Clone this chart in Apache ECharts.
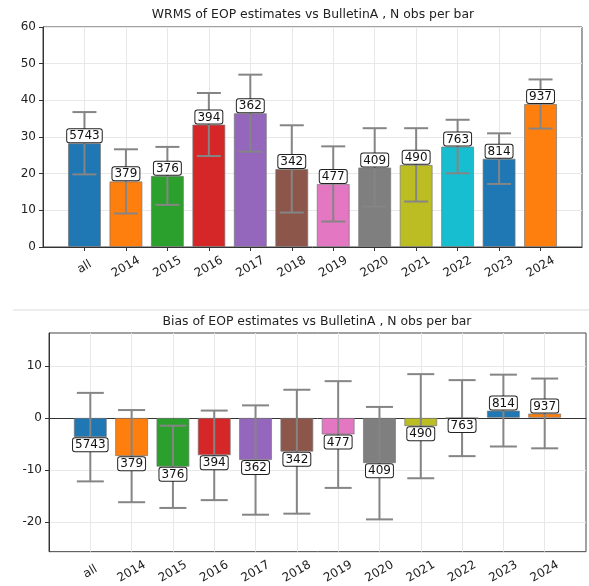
<!DOCTYPE html>
<html>
<head>
<meta charset="UTF-8">
<title>WRMS / Bias of EOP estimates vs BulletinA</title>
<style type="text/css">
    *{margin:0;padding:0;}
    body{background:#fff;}
    #main{width:589px;height:586px;}
</style>
<script src="https://cdn.jsdelivr.net/npm/echarts@6/dist/echarts.min.js"></script>
</head>
<body>
<div id="main"></div>
<script type="text/javascript">
    // data
    var categories = ['all', '2014', '2015', '2016', '2017', '2018', '2019', '2020', '2021', '2022', '2023', '2024'];
    var nObs = [5743, 379, 376, 394, 362, 342, 477, 409, 490, 763, 814, 937];
    var wrms = [28.3, 17.9, 19.4, 33.4, 36.5, 21.3, 17.2, 21.7, 22.4, 27.4, 24.1, 39.0];
    var wrmsErr = [8.5, 8.75, 7.9, 8.6, 10.5, 11.9, 10.25, 10.7, 10.0, 7.3, 6.9, 6.7];
    var bias = [-3.7, -7.35, -9.4, -7.2, -8.1, -6.5, -3.2, -8.7, -1.6, -0.05, 1.4, 0.85];
    var biasErr = [8.5, 8.85, 7.9, 8.6, 10.5, 11.9, 10.25, 10.8, 10.0, 7.3, 6.9, 6.7];
    var wrmsTicks = [0, 10, 20, 30, 40, 50, 60];
    var biasTicks = [-20, -10, 0, 10];

    var barColors = ['#1f77b4', '#ff7f0e', '#2ca02c', '#d62728', '#9467bd', '#8c564b',
                     '#e377c2', '#7f7f7f', '#bcbd22', '#17becf', '#1f77b4', '#ff7f0e'];
    var FONT = 'DejaVu Sans';

    // empty slot on both ends so the bars sit one step inside the frame
    var axisCats = [''].concat(categories, ['']);

    function barData(vals) {
        return ['-'].concat(vals.map(function (v, i) {
            return {value: v, itemStyle: {color: barColors[i]}};
        }), ['-']);
    }

    function errData(vals, errs) {
        return vals.map(function (v, i) {
            return [i + 1, v - errs[i], v + errs[i], v, nObs[i]];
        });
    }

    // error bar + N obs box at the end of the bar
    function errRender(capHalf) {
        return function (params, api) {
            var x = api.value(0), v = api.value(3);
            var lo = api.coord([x, api.value(1)]);
            var hi = api.coord([x, api.value(2)]);
            var end = api.coord([x, v]);
            var ls = {stroke: '#858585', lineWidth: 2};
            var neg = v < 0;
            return {
                type: 'group',
                children: [
                    {type: 'line', shape: {x1: lo[0], y1: lo[1], x2: hi[0], y2: hi[1]}, style: ls},
                    {type: 'line', shape: {x1: lo[0] - capHalf, y1: lo[1], x2: lo[0] + capHalf, y2: lo[1]}, style: ls},
                    {type: 'line', shape: {x1: hi[0] - capHalf, y1: hi[1], x2: hi[0] + capHalf, y2: hi[1]}, style: ls},
                    {
                        type: 'text', x: end[0], y: neg ? end[1] + 1 : end[1] - 1,
                        style: {
                            text: String(api.value(4)), align: 'center',
                            verticalAlign: neg ? 'top' : 'bottom',
                            font: '12px "' + FONT + '"', fill: '#111',
                            backgroundColor: '#fff', borderColor: '#222', borderWidth: 1,
                            borderRadius: 2, padding: [1, 2, 0, 2]
                        }
                    }
                ]
            };
        };
    }

    function xAxis(gi) {
        return {
            gridIndex: gi, type: 'category', data: axisCats, boundaryGap: false,
            axisLine: {lineStyle: {color: '#333', width: 1}},
            axisTick: {show: true, length: 4, interval: function (i) { return i > 0 && i < axisCats.length - 1; }, lineStyle: {color: '#333'}},
            axisLabel: {
                interval: 0, rotate: 30, align: 'center', verticalAlign: 'middle', margin: 20,
                fontFamily: FONT, fontSize: 12, color: '#222'
            },
            splitLine: {show: true, interval: function (i) { return i > 0 && i < axisCats.length - 1; }, lineStyle: {color: '#e8e8e8', width: 1}}
        };
    }

    function yAxis(gi, min, max, ticks) {
        return {
            gridIndex: gi, type: 'value', min: min, max: max,
            axisLine: {show: true, lineStyle: {color: '#333'}},
            axisTick: {show: true, length: 4, customValues: ticks, lineStyle: {color: '#333'}},
            axisLabel: {customValues: ticks, margin: 7, fontFamily: FONT, fontSize: 12, color: '#222'},
            splitLine: {show: true, lineStyle: {color: '#e8e8e8', width: 1}}
        };
    }

    var myChart = echarts.init(document.getElementById('main'));

    var option = {
        animation: false,
        graphic: [
            {type: 'text', x: 313, y: 15, style: {text: 'WRMS of EOP estimates vs BulletinA , N obs per bar', align: 'center', verticalAlign: 'middle', font: '12.4px "' + FONT + '"', fill: '#222'}},
            {type: 'line', shape: {x1: 13, y1: 310, x2: 589, y2: 310}, style: {stroke: '#dcdcdc', lineWidth: 1}},
            {type: 'text', x: 317, y: 322, style: {text: 'Bias of EOP estimates vs BulletinA , N obs per bar', align: 'center', verticalAlign: 'middle', font: '12.4px "' + FONT + '"', fill: '#222'}}
        ],
        grid: [
            {left: 43, top: 27, width: 539, height: 220, show: true, borderColor: '#444', borderWidth: 1},
            {left: 49, top: 333, width: 537, height: 220, show: true, borderColor: '#444', borderWidth: 1}
        ],
        xAxis: [xAxis(0), xAxis(1)],
        yAxis: [
            yAxis(0, 0, 60, wrmsTicks),
            yAxis(1, -25.7, 16.3, biasTicks)
        ],
        series: [
            {
                type: 'bar', xAxisIndex: 0, yAxisIndex: 0, barWidth: 33, z: 2,
                itemStyle: {borderColor: 'rgba(120,120,120,0.7)', borderWidth: 1},
                data: barData(wrms)
            },
            {
                type: 'custom', xAxisIndex: 0, yAxisIndex: 0, z: 3,
                renderItem: errRender(12), encode: {x: 0, y: [1, 2]},
                data: errData(wrms, wrmsErr)
            },
            {
                type: 'bar', xAxisIndex: 1, yAxisIndex: 1, barWidth: 33, z: 2,
                itemStyle: {borderColor: 'rgba(120,120,120,0.7)', borderWidth: 1},
                data: barData(bias)
            },
            {
                type: 'custom', xAxisIndex: 1, yAxisIndex: 1, z: 3,
                renderItem: errRender(13.5), encode: {x: 0, y: [1, 2]},
                data: errData(bias, biasErr)
            }
        ]
    };
    myChart.setOption(option);
</script>
</body>
</html>
